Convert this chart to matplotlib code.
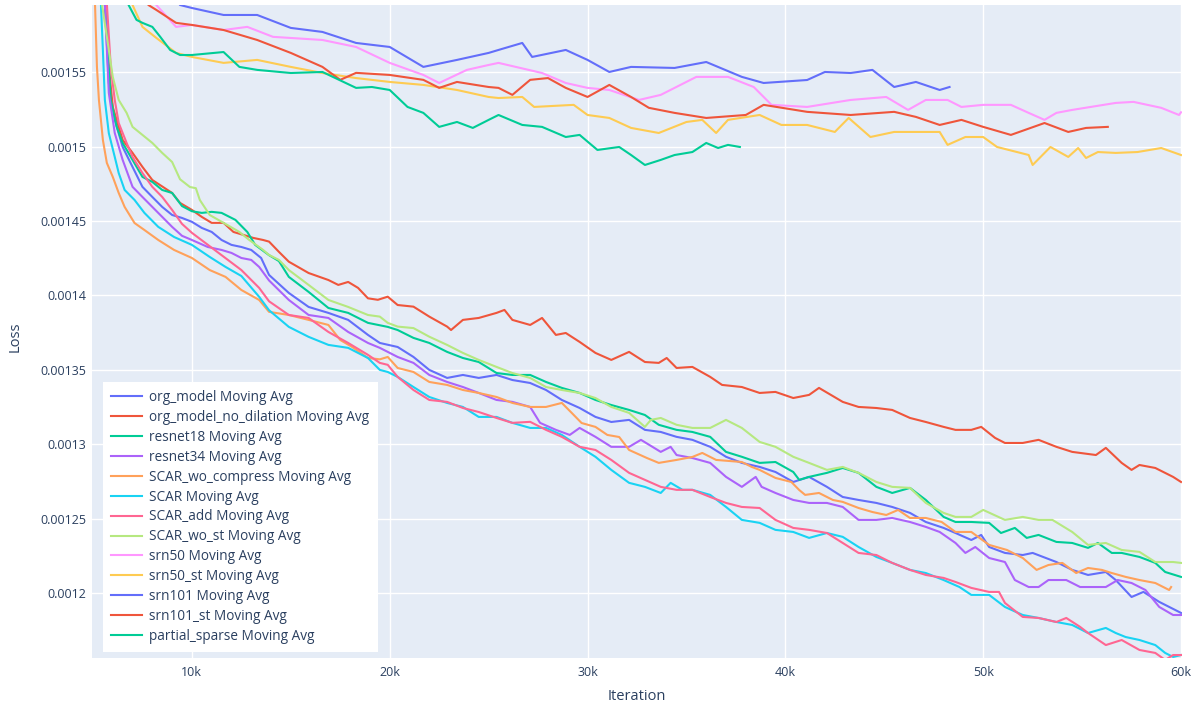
import matplotlib
matplotlib.use('Agg')
import matplotlib.pyplot as plt
import numpy as np

# Moving-average training loss per model, as (iteration, loss in units of 1e-3)
org_model = [(5000, 1.80), (5600, 1.596), (5800, 1.5427), (6100, 1.5179), (6500, 1.4997), (7000, 1.4863),
             (7500, 1.4729), (8000, 1.4661), (8500, 1.4594), (9000, 1.454), (9500, 1.452), (10000, 1.4494),
             (10500, 1.4453), (11000, 1.4426), (11500, 1.4372), (12000, 1.4339), (12500, 1.4325), (13000, 1.4305),
             (13500, 1.4251), (13900, 1.4137), (14900, 1.4016), (15900, 1.3922), (16900, 1.3882), (17900, 1.3835),
             (18900, 1.3734), (19500, 1.368), (20400, 1.3653), (21200, 1.3586), (22000, 1.3499), (22900, 1.3445),
             (23700, 1.3465), (24500, 1.3445), (25400, 1.3465), (26200, 1.3431), (27100, 1.3411), (27900, 1.3364),
             (28700, 1.3297), (29600, 1.3243), (30400, 1.3183), (31200, 1.3149), (32100, 1.3163), (32900, 1.3096),
             (33700, 1.3082), (34500, 1.3049), (35300, 1.3029), (36200, 1.2982), (37000, 1.2915), (37800, 1.2874),
             (38700, 1.2847), (39500, 1.2813), (40400, 1.2746), (41200, 1.278), (42100, 1.2713), (42900, 1.2645),
             (43700, 1.2625), (44600, 1.2605), (45400, 1.2578), (46300, 1.2538), (47100, 1.2477), (48000, 1.2437),
             (48600, 1.2403), (49400, 1.2356), (49900, 1.239), (50300, 1.2309), (51100, 1.2269), (52000, 1.2255),
             (52500, 1.2269), (53700, 1.2208), (54500, 1.2155), (55300, 1.2121), (56200, 1.2141), (56700, 1.2087),
             (57500, 1.1973), (58100, 1.2007), (58900, 1.194), (60000, 1.1866)]

org_model_no_dilation = [(5000, 1.80), (5600, 1.596), (5800, 1.5535), (6000, 1.5266), (6300, 1.5132), (6500, 1.5044),
                         (7000, 1.4957), (7500, 1.4863), (8000, 1.4775), (9000, 1.4688), (9400, 1.4621), (10000, 1.4574),
                         (10500, 1.4527), (11000, 1.4487), (11600, 1.4487), (12100, 1.4426), (12600, 1.4406),
                         (13100, 1.4386), (13600, 1.4372), (13900, 1.4361), (14400, 1.4292), (14900, 1.4226),
                         (15900, 1.415), (16900, 1.4103), (17400, 1.407), (17900, 1.409), (18400, 1.405), (18900, 1.398),
                         (19400, 1.397), (19900, 1.3991), (20400, 1.3935), (21200, 1.3924), (22000, 1.3857),
                         (22900, 1.379), (23100, 1.3767), (23700, 1.3835), (24500, 1.3848), (25400, 1.3882),
                         (25800, 1.3902), (26200, 1.3835), (27100, 1.3801), (27700, 1.3848), (28400, 1.3734),
                         (28900, 1.3747), (29600, 1.3687), (30400, 1.3613), (31200, 1.3566), (32100, 1.362),
                         (32900, 1.3552), (33600, 1.3546), (34000, 1.3579), (34500, 1.3512), (35300, 1.3519),
                         (36200, 1.3452), (36800, 1.3398), (37800, 1.3384), (38700, 1.3344), (39500, 1.3351),
                         (40400, 1.331), (41200, 1.3331), (41700, 1.3378), (42900, 1.3284), (43700, 1.325),
                         (44600, 1.3243), (45400, 1.323), (46300, 1.3176), (47100, 1.3149), (48000, 1.3116),
                         (48600, 1.3096), (49400, 1.3096), (49900, 1.3116), (50600, 1.3042), (51100, 1.3008),
                         (52000, 1.3008), (52800, 1.3029), (53700, 1.2982), (54500, 1.2948), (55700, 1.2927),
                         (56200, 1.2975), (57000, 1.2874), (57500, 1.2827), (57900, 1.286), (58700, 1.284),
                         (59600, 1.278), (60000, 1.2746)]

resnet18 = [(5000, 1.80), (5600, 1.596), (5800, 1.5535), (5900, 1.5313), (6200, 1.5132), (6500, 1.5024), (7000, 1.491),
            (7500, 1.4796), (8000, 1.4762), (8500, 1.4708), (9000, 1.4688), (9500, 1.46), (10000, 1.4565),
            (10500, 1.4554), (11000, 1.4561), (11500, 1.4554), (12200, 1.4507), (12800, 1.4426), (13200, 1.4339),
            (13900, 1.427), (14400, 1.423), (14900, 1.4124), (15900, 1.4023), (16900, 1.3915), (17900, 1.3882),
            (18900, 1.3815), (19900, 1.3788), (20400, 1.3767), (21200, 1.3714), (22000, 1.368), (22900, 1.362),
            (23700, 1.3579), (24500, 1.3552), (25400, 1.3478), (26200, 1.3465), (27100, 1.3465), (27900, 1.3418),
            (28700, 1.3378), (29600, 1.3344), (30400, 1.3297), (31200, 1.3263), (32100, 1.323), (32900, 1.3196),
            (33600, 1.313), (34500, 1.3096), (35300, 1.3082), (36200, 1.3049), (37000, 1.2948), (37800, 1.2915),
            (38700, 1.2874), (39500, 1.288), (40400, 1.2813), (40700, 1.276), (41200, 1.278), (42100, 1.2807),
            (42900, 1.284), (43700, 1.2807), (44600, 1.2713), (45400, 1.2672), (46300, 1.2706), (47100, 1.2625),
            (48000, 1.2511), (48600, 1.2477), (49400, 1.2477), (50300, 1.2471), (50900, 1.2403), (51600, 1.2437),
            (52200, 1.237), (52800, 1.239), (53700, 1.2343), (54500, 1.2336), (55300, 1.2303), (55800, 1.2336),
            (56500, 1.2269), (57000, 1.2269), (57900, 1.2242), (58700, 1.2202), (59200, 1.2141), (60000, 1.2108)]

resnet34 = [(5000, 1.80), (5600, 1.596), (5800, 1.536), (6100, 1.5091), (6500, 1.491), (7000, 1.4729), (7500, 1.4661),
            (8000, 1.4594), (8500, 1.4527), (9000, 1.446), (9500, 1.44), (10000, 1.4372), (10800, 1.4325),
            (11500, 1.4305), (12000, 1.4285), (12500, 1.4251), (13000, 1.4238), (13400, 1.4191), (13900, 1.41),
            (14900, 1.3969), (15900, 1.3868), (16900, 1.3848), (17900, 1.3754), (18900, 1.368), (19500, 1.3647),
            (19900, 1.362), (20400, 1.3586), (21200, 1.3546), (22000, 1.3465), (22900, 1.3418), (23700, 1.3384),
            (24500, 1.3344), (25400, 1.3297), (26200, 1.3284), (27100, 1.325), (27600, 1.3143), (28400, 1.3096),
            (29100, 1.3062), (29600, 1.3109), (30400, 1.3049), (31200, 1.2982), (32100, 1.2982), (32700, 1.3029),
            (33700, 1.2948), (34200, 1.2982), (34500, 1.2927), (35300, 1.2907), (36200, 1.2874), (37000, 1.278),
            (37800, 1.2713), (38500, 1.278), (38800, 1.2713), (39500, 1.2672), (40400, 1.2625), (41200, 1.2605),
            (42100, 1.2605), (42900, 1.2578), (43700, 1.2491), (44600, 1.2491), (45400, 1.2504), (46300, 1.2477),
            (47100, 1.2444), (47800, 1.241), (48600, 1.2336), (49100, 1.2269), (49600, 1.2309), (50300, 1.2235),
            (51100, 1.2208), (51600, 1.2087), (52300, 1.204), (52800, 1.204), (53300, 1.2087), (54200, 1.2087),
            (54900, 1.204), (55300, 1.204), (56200, 1.204), (56800, 1.2087), (57500, 1.2067), (58200, 1.202),
            (58900, 1.1906), (59600, 1.1852), (60000, 1.1852)]

scar_wo_compress = [(5000, 1.64), (5200, 1.5535), (5300, 1.5313), (5500, 1.5044), (5700, 1.489), (6000, 1.4796),
                    (6300, 1.4688), (6600, 1.4594), (7100, 1.4486), (7600, 1.4439), (8300, 1.4372), (9100, 1.4305),
                    (10000, 1.4251), (10900, 1.417), (11700, 1.4124), (12500, 1.4036), (13400, 1.3969),
                    (13900, 1.3889), (14900, 1.3868), (15900, 1.3835), (16900, 1.3801), (17500, 1.37),
                    (18100, 1.3653), (18900, 1.3579), (19500, 1.357), (19900, 1.3586), (20400, 1.3512),
                    (21200, 1.3485), (22000, 1.3418), (22900, 1.3398), (23700, 1.3364), (24500, 1.3344),
                    (25400, 1.3317), (26200, 1.3277), (27100, 1.325), (27900, 1.325), (28700, 1.3277), (29200, 1.321),
                    (29700, 1.3142), (30400, 1.3116), (31000, 1.3062), (31600, 1.3048), (32100, 1.2961),
                    (33000, 1.2907), (33600, 1.2874), (34500, 1.2894), (35300, 1.2914), (35800, 1.2941),
                    (36500, 1.2894), (37800, 1.288), (38300, 1.2847), (38700, 1.2827), (39500, 1.2773),
                    (40300, 1.2746), (40700, 1.2692), (41000, 1.2659), (41700, 1.2672), (42400, 1.2625),
                    (42900, 1.2612), (43700, 1.2571), (44400, 1.2544), (45100, 1.2524), (45700, 1.2558),
                    (46300, 1.2504), (47100, 1.2504), (47900, 1.2477), (48600, 1.241), (49400, 1.241),
                    (50300, 1.2323), (51200, 1.2289), (52000, 1.2235), (52700, 1.2155), (53300, 1.2188),
                    (54000, 1.2202), (54700, 1.2134), (55300, 1.2168), (56000, 1.2155), (56500, 1.2134),
                    (57200, 1.2108), (57900, 1.2087), (58700, 1.2067), (59400, 1.202), (59500, 1.204)]

scar = [(5000, 1.75), (5400, 1.596), (5500, 1.5649), (5600, 1.5313), (5800, 1.509), (6100, 1.493), (6300, 1.4822),
        (6600, 1.4708), (7100, 1.4641), (7600, 1.4554), (8300, 1.446), (9100, 1.4392), (10000, 1.4339),
        (10900, 1.4258), (11700, 1.4191), (12500, 1.413), (13400, 1.399), (13900, 1.39), (14900, 1.3788),
        (15900, 1.3721), (16900, 1.3667), (17900, 1.3647), (18900, 1.3579), (19500, 1.3499), (19900, 1.3485),
        (20400, 1.3452), (21200, 1.3384), (22000, 1.3317), (22900, 1.3277), (23700, 1.325), (24500, 1.3183),
        (25400, 1.3183), (26200, 1.3143), (27100, 1.3109), (27900, 1.3109), (28700, 1.3062), (29600, 1.2982),
        (30400, 1.2915), (31200, 1.2827), (32100, 1.274), (32900, 1.2713), (33700, 1.2672), (34200, 1.274),
        (34800, 1.2693), (35300, 1.2693), (36200, 1.2659), (37000, 1.2578), (37800, 1.2491), (38700, 1.2471),
        (39500, 1.2424), (40400, 1.241), (41200, 1.237), (42100, 1.2403), (42900, 1.2377), (43700, 1.2309),
        (44600, 1.2242), (45400, 1.2202), (46300, 1.2155), (47100, 1.2134), (48000, 1.2087), (48800, 1.204),
        (49400, 1.1987), (50300, 1.1987), (51100, 1.1906), (52000, 1.1852), (52800, 1.1832), (53700, 1.1805),
        (54500, 1.1785), (55300, 1.1731), (56200, 1.1765), (56700, 1.1731), (57200, 1.1704), (57900, 1.1684),
        (58700, 1.165), (59200, 1.1597), (59600, 1.157), (60000, 1.1583)]

scar_add = [(5000, 1.80), (5700, 1.596), (5900, 1.5535), (6100, 1.5313), (6300, 1.5158), (6700, 1.5024), (7000, 1.493),
            (7500, 1.4822), (8000, 1.4729), (8500, 1.4661), (9000, 1.4574), (9500, 1.448), (10000, 1.442),
            (10800, 1.434), (11700, 1.425), (12500, 1.417), (13400, 1.405), (13900, 1.396), (14900, 1.3868),
            (15900, 1.3848), (16900, 1.3754), (17900, 1.368), (18900, 1.36), (19500, 1.3546), (19900, 1.3533),
            (20400, 1.3452), (21200, 1.3364), (22000, 1.3297), (22900, 1.3284), (23700, 1.3243), (24500, 1.3216),
            (25400, 1.3176), (26200, 1.3143), (27100, 1.315), (27900, 1.3096), (28700, 1.3049), (29600, 1.2982),
            (30400, 1.2961), (31200, 1.2894), (32100, 1.2807), (32900, 1.276), (33700, 1.2713), (34500, 1.2693),
            (35300, 1.2693), (36200, 1.2645), (37000, 1.2605), (37800, 1.2578), (38700, 1.2571), (39500, 1.2491),
            (40400, 1.2437), (41200, 1.2424), (42100, 1.2403), (42900, 1.2336), (43700, 1.2269), (44600, 1.2255),
            (45400, 1.2202), (46300, 1.2155), (47100, 1.2121), (48000, 1.2101), (48600, 1.2074), (49400, 1.2034),
            (50300, 1.2007), (50800, 1.2007), (51100, 1.1933), (52000, 1.1839), (52800, 1.1832), (53700, 1.1805),
            (54200, 1.1832), (54900, 1.1772), (55300, 1.1731), (56200, 1.165), (57000, 1.1684), (57900, 1.1617),
            (58700, 1.1597), (59200, 1.155), (59600, 1.1583), (60000, 1.1583)]

scar_wo_st = [(5000, 1.80), (5450, 1.596), (5800, 1.5649), (6000, 1.5468), (6300, 1.5313), (6700, 1.5226),
              (7000, 1.5132), (7500, 1.5078), (8000, 1.5024), (8500, 1.4957), (9000, 1.4896), (9400, 1.478),
              (9900, 1.4728), (10200, 1.472), (10400, 1.4641), (10900, 1.454), (11600, 1.4487), (12400, 1.4426),
              (12900, 1.4372), (13600, 1.4305), (13900, 1.4271), (14400, 1.4238), (14900, 1.417), (15900, 1.407),
              (16900, 1.3969), (17900, 1.3922), (18900, 1.3868), (19500, 1.3857), (19900, 1.3815), (20400, 1.379),
              (21200, 1.378), (22000, 1.3722), (22900, 1.3667), (23700, 1.3613), (24500, 1.3566), (25400, 1.3519),
              (26200, 1.3478), (27100, 1.3445), (27900, 1.3384), (28700, 1.3364), (29600, 1.3344), (30400, 1.331),
              (31200, 1.325), (32100, 1.321), (32900, 1.3116), (33200, 1.3163), (33700, 1.3176), (34500, 1.313),
              (35300, 1.3109), (36200, 1.3109), (37000, 1.3163), (37800, 1.3109), (38700, 1.3015), (39500, 1.2982),
              (40400, 1.2915), (41200, 1.2874), (42100, 1.2827), (42900, 1.2847), (43700, 1.2807), (44600, 1.2746),
              (45400, 1.2713), (46300, 1.2706), (47100, 1.2605), (48000, 1.2538), (48600, 1.2511), (49400, 1.2511),
              (50000, 1.2558), (51100, 1.2491), (52000, 1.2511), (52800, 1.2491), (53500, 1.2491), (54500, 1.241),
              (55300, 1.2323), (56200, 1.2336), (57000, 1.2289), (57900, 1.2276), (58700, 1.2208), (59600, 1.2208),
              (60000, 1.2202)]

srn50 = [(5000, 1.72), (7000, 1.63), (8200, 1.5951), (9200, 1.5804), (10000, 1.5817), (11600, 1.5783),
         (12800, 1.5804), (14100, 1.5737), (16600, 1.5716), (18300, 1.5669), (20000, 1.5562), (21700, 1.5481),
         (22500, 1.5427), (23900, 1.5515), (25000, 1.5548), (25500, 1.5562), (27700, 1.5494), (28900, 1.5427),
         (30000, 1.5394), (31100, 1.538), (32600, 1.5313), (33700, 1.5347), (35500, 1.5468), (37100, 1.5468),
         (38400, 1.54), (39300, 1.528), (41100, 1.5266), (43300, 1.5313), (45100, 1.5333), (46200, 1.5246),
         (47100, 1.5313), (48200, 1.5313), (48900, 1.5266), (50000, 1.528), (51400, 1.528), (52300, 1.5226),
         (53100, 1.5179), (53700, 1.5226), (54500, 1.5246), (56700, 1.5293), (57600, 1.53), (59000, 1.526),
         (59900, 1.5212), (60000, 1.523)]

srn50_st = [(5000, 1.72), (6500, 1.62), (7000, 1.5951), (7500, 1.5804), (8200, 1.573), (9200, 1.5629),
            (10000, 1.5602), (11600, 1.5562), (13300, 1.5582), (15000, 1.5535), (16600, 1.5494), (18300, 1.546),
            (20000, 1.5434), (21700, 1.5414), (23400, 1.538), (25000, 1.5333), (25500, 1.5326), (26700, 1.5333),
            (27300, 1.5266), (29300, 1.528), (30000, 1.5212), (31100, 1.5192), (32200, 1.5125), (33600, 1.5091),
            (35000, 1.5165), (35800, 1.5179), (36500, 1.5091), (37100, 1.5179), (38700, 1.5212), (39800, 1.5145),
            (41100, 1.5145), (42500, 1.5098), (43200, 1.5192), (44300, 1.5064), (45500, 1.5098), (47800, 1.5098),
            (48200, 1.5011), (49100, 1.5064), (50000, 1.5064), (50700, 1.4997), (52300, 1.4943), (52500, 1.4876),
            (53400, 1.4997), (54300, 1.493), (54800, 1.499), (55200, 1.4923), (55800, 1.4963), (56700, 1.4957),
            (57800, 1.4963), (59000, 1.499), (60000, 1.4943)]

srn101 = [(5000, 1.72), (8000, 1.62), (9400, 1.5951), (10000, 1.5931), (11600, 1.5884), (13300, 1.5884),
          (15000, 1.5797), (16600, 1.577), (18300, 1.5696), (20000, 1.5669), (21700, 1.5535), (23400, 1.5582),
          (25000, 1.5629), (25500, 1.5649), (26700, 1.5696), (27200, 1.5602), (28900, 1.5649), (30000, 1.5582),
          (31100, 1.5501), (32200, 1.5535), (34400, 1.5528), (36000, 1.5568), (37800, 1.5468), (38900, 1.5427),
          (41100, 1.5447), (42000, 1.5501), (43300, 1.5494), (44400, 1.5515), (45500, 1.54), (46600, 1.5434),
          (47800, 1.538), (48300, 1.54)]

srn101_st = [(5000, 1.72), (7000, 1.62), (7800, 1.5951), (8200, 1.5918), (9200, 1.5831), (10000, 1.5817),
             (11600, 1.5783), (13300, 1.5716), (15000, 1.5629), (16600, 1.5535), (17500, 1.5448), (18300, 1.5495),
             (20000, 1.5481), (21700, 1.5448), (22500, 1.5394), (23400, 1.5434), (25000, 1.54), (25500, 1.5394),
             (26200, 1.5347), (27100, 1.5448), (28000, 1.546), (28900, 1.5394), (30000, 1.5333), (31100, 1.5414),
             (32200, 1.5333), (33100, 1.526), (34400, 1.5226), (36000, 1.5192), (38000, 1.5212), (38900, 1.528),
             (41100, 1.5233), (43300, 1.5212), (45500, 1.5233), (46600, 1.5199), (47800, 1.5145), (48900, 1.5179),
             (50000, 1.5132), (51400, 1.5078), (53100, 1.5158), (54300, 1.5098), (55200, 1.5125), (56300, 1.5132)]

partial_sparse = [(5000, 1.72), (6400, 1.62), (6800, 1.5951), (7200, 1.5851), (7500, 1.5831), (8000, 1.5804),
                  (8400, 1.5737), (8900, 1.5649), (9400, 1.5615), (10000, 1.5615), (11600, 1.5635), (12400, 1.5535),
                  (13300, 1.5515), (15000, 1.5494), (16600, 1.5501), (18300, 1.5394), (19100, 1.54), (20000, 1.538),
                  (20900, 1.5266), (21700, 1.5226), (22500, 1.5132), (23400, 1.5165), (24200, 1.5125),
                  (25000, 1.5179), (25500, 1.5212), (26700, 1.5145), (27700, 1.5132), (28900, 1.5064),
                  (29600, 1.5078), (30500, 1.4977), (31600, 1.4997), (32200, 1.4943), (32900, 1.4876),
                  (33700, 1.491), (34400, 1.4943), (35300, 1.4963), (36000, 1.5024), (36600, 1.499), (37100, 1.5011),
                  (37700, 1.4997)]

series = [
    ('org_model Moving Avg', org_model, '#636EFA'),
    ('org_model_no_dilation Moving Avg', org_model_no_dilation, '#EF553B'),
    ('resnet18 Moving Avg', resnet18, '#00CC96'),
    ('resnet34 Moving Avg', resnet34, '#AB63FA'),
    ('SCAR_wo_compress Moving Avg', scar_wo_compress, '#FFA15A'),
    ('SCAR Moving Avg', scar, '#19D3F3'),
    ('SCAR_add Moving Avg', scar_add, '#FF6692'),
    ('SCAR_wo_st Moving Avg', scar_wo_st, '#B6E880'),
    ('srn50 Moving Avg', srn50, '#FF97FF'),
    ('srn50_st Moving Avg', srn50_st, '#FECB52'),
    ('srn101 Moving Avg', srn101, '#636EFA'),
    ('srn101_st Moving Avg', srn101_st, '#EF553B'),
    ('partial_sparse Moving Avg', partial_sparse, '#00CC96'),
]

x_ticks = [10000, 20000, 30000, 40000, 50000, 60000]
x_tick_labels = ['10k', '20k', '30k', '40k', '50k', '60k']
y_ticks = [0.0012, 0.00125, 0.0013, 0.00135, 0.0014, 0.00145, 0.0015, 0.00155]
y_tick_labels = ['0.0012', '0.00125', '0.0013', '0.00135', '0.0014', '0.00145', '0.0015', '0.00155']

plt.rcParams['font.family'] = ['Open Sans', 'DejaVu Sans']
text_color = '#2a3f5f'

W, H = 1193, 704
fig = plt.figure(figsize=(W / 100, H / 100), dpi=100)
ax = fig.add_axes([92 / W, 46 / H, 1090 / W, 653 / H])
ax.set_facecolor('#E5ECF6')

for name, pts, color in series:
    arr = np.array(pts)
    ax.plot(arr[:, 0], arr[:, 1] * 1e-3, color=color, linewidth=1.5, label=name,
            solid_joinstyle='round')

ax.set_xlim(4950, 60050)
ax.set_ylim(0.0011563, 0.0015951)
ax.set_xticks(x_ticks)
ax.set_xticklabels(x_tick_labels)
ax.set_yticks(y_ticks)
ax.set_yticklabels(y_tick_labels)
ax.tick_params(length=0, labelsize=9, labelcolor=text_color)
ax.tick_params(axis='x', pad=6)
ax.tick_params(axis='y', pad=4)
ax.grid(True, color='white', linewidth=1)
ax.set_axisbelow(True)
for s in ax.spines.values():
    s.set_visible(False)

fig.text(15 / W, 1 - 337 / H, 'Loss', rotation=90, ha='center', va='center',
         fontsize=10.5, color=text_color)
fig.text(637 / W, 1 - 696 / H, 'Iteration', ha='center', va='center',
         fontsize=10.5, color=text_color)

leg = ax.legend(loc='lower left', bbox_to_anchor=(11 / 1090, 6 / 653), borderaxespad=0,
                fontsize=9.8, frameon=True, fancybox=False, framealpha=1,
                handlelength=2.3, handletextpad=0.5, labelspacing=0.36, borderpad=0.6)
leg.get_frame().set_facecolor('white')
leg.get_frame().set_linewidth(0)
for t in leg.get_texts():
    t.set_color(text_color)

fig.savefig('out.png', dpi=100)
